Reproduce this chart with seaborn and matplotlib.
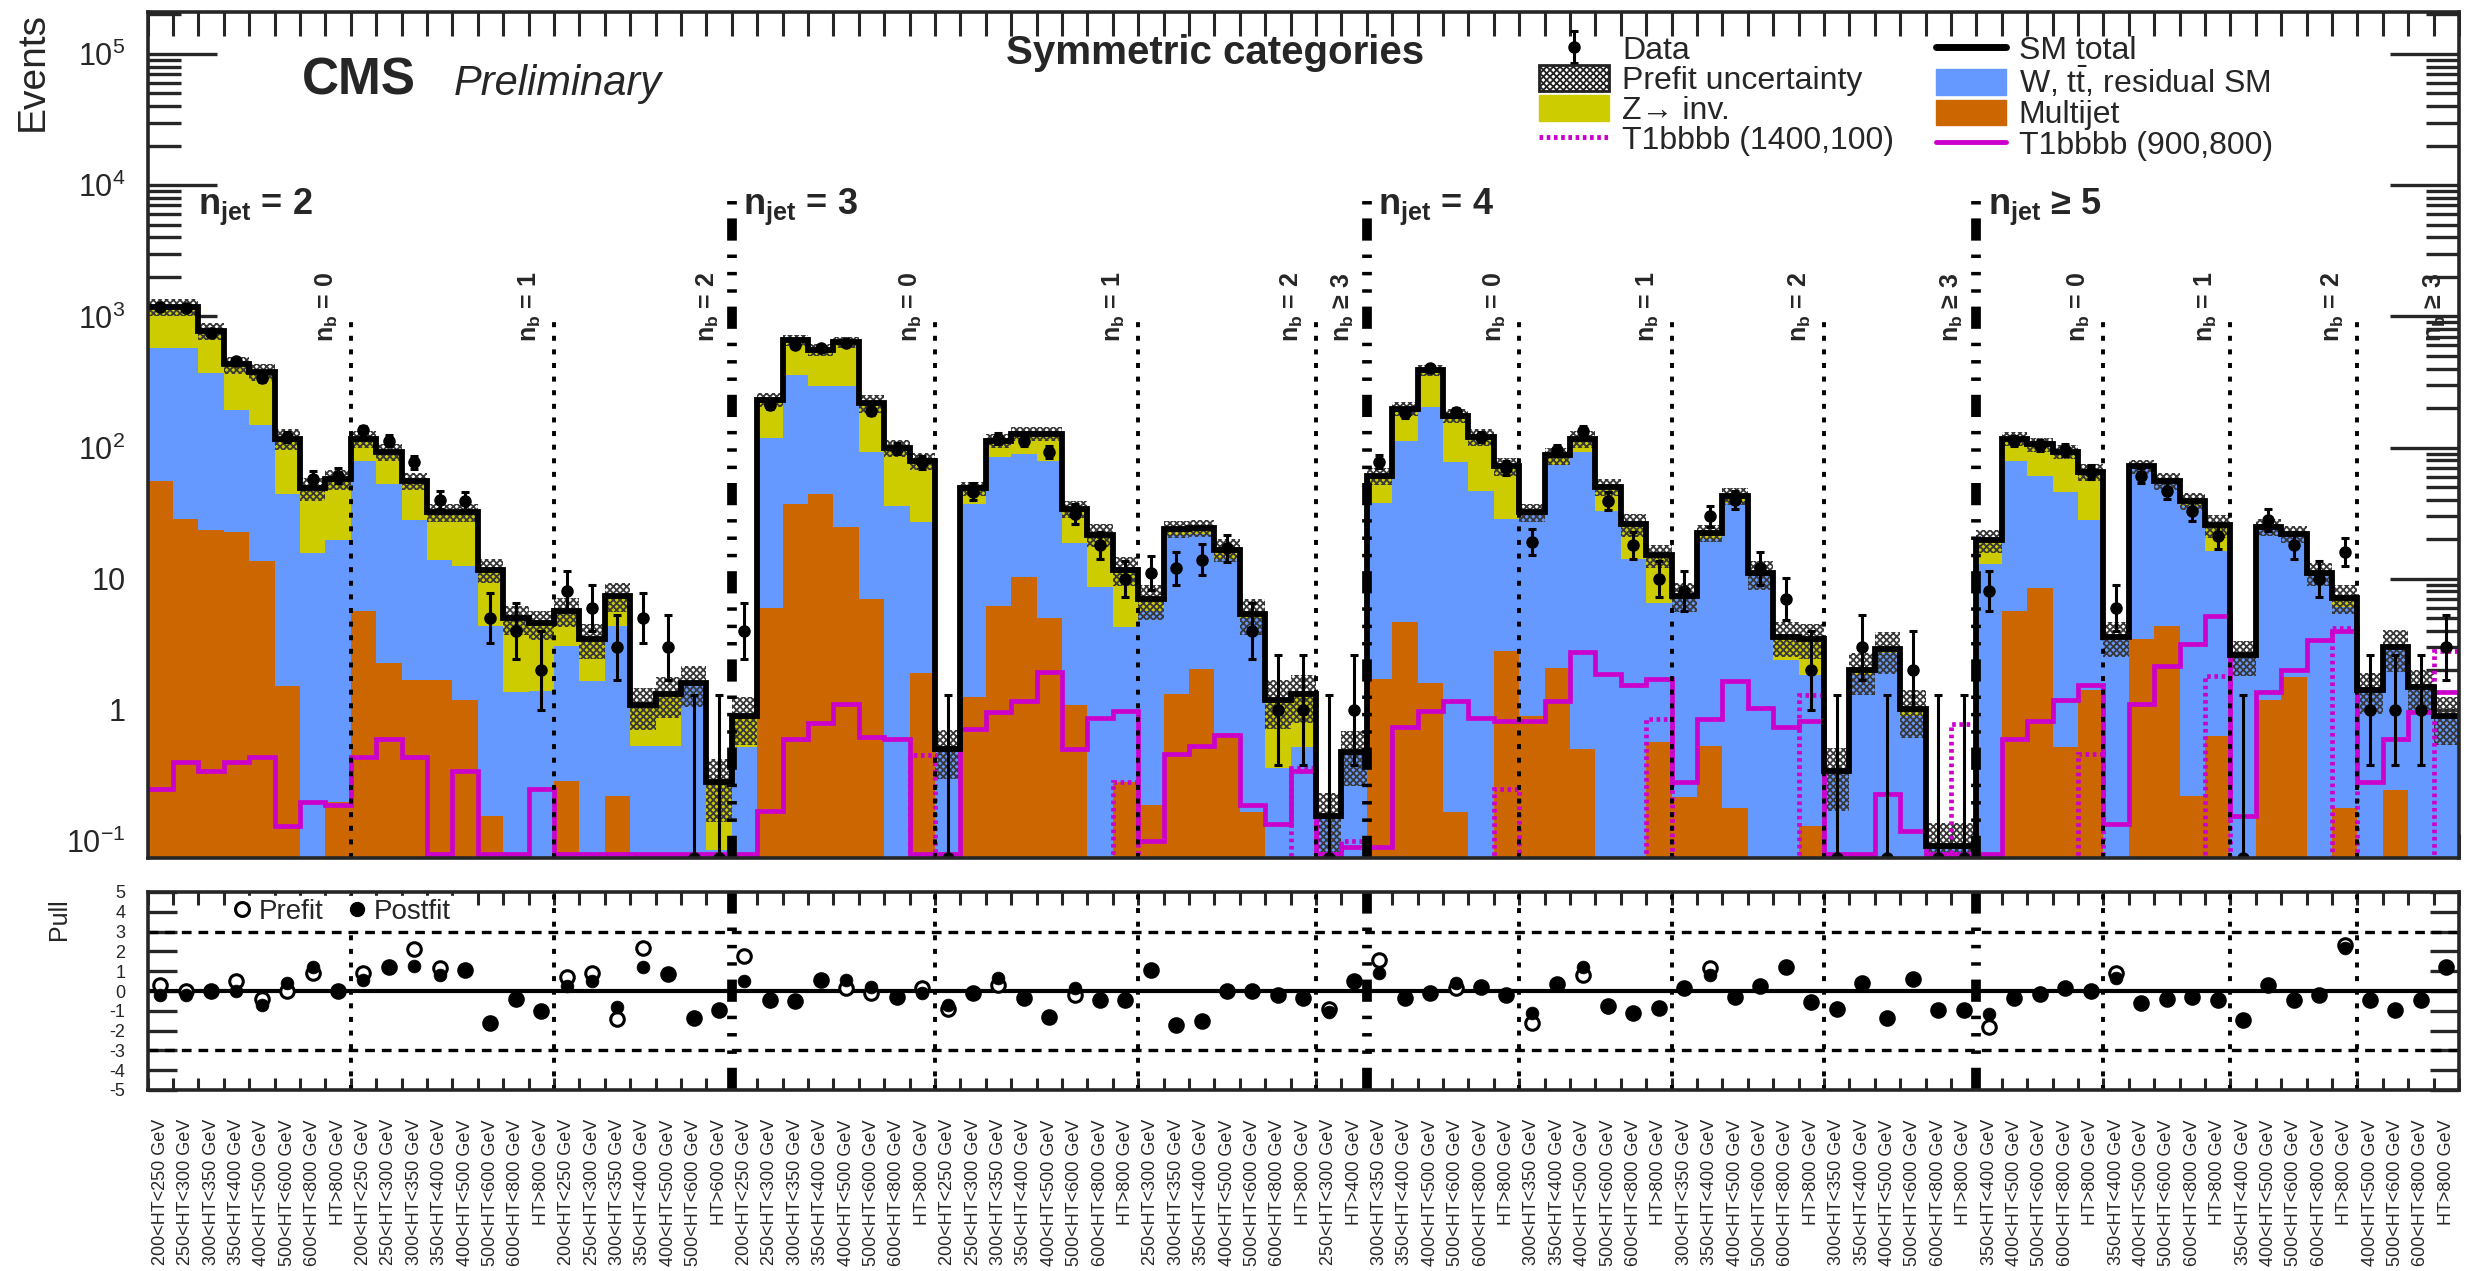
import numpy as np
import pandas as pd
import matplotlib
matplotlib.use("Agg")
import matplotlib.pyplot as plt
import matplotlib.ticker as mticker
import matplotlib.transforms as mtransforms
from matplotlib.lines import Line2D
from matplotlib.patches import Patch
import seaborn as sns

# ---------------- categories / tick labels ----------------
ht_8 = ['200<HT<250', '250<HT<300', '300<HT<350', '350<HT<400', '400<HT<500', '500<HT<600', '600<HT<800', 'HT>800']
ht_nj2_nb2 = ['200<HT<250', '250<HT<300', '300<HT<350', '350<HT<400', '400<HT<500', '500<HT<600', 'HT>600']
ht_nj3_nb2 = ['250<HT<300', '300<HT<350', '350<HT<400', '400<HT<500', '500<HT<600', '600<HT<800', 'HT>800']
ht_nj3_nb3 = ['250<HT<300', 'HT>400']
ht_nj4 = ['300<HT<350', '350<HT<400', '400<HT<500', '500<HT<600', '600<HT<800', 'HT>800']
ht_nj5 = ['350<HT<400', '400<HT<500', '500<HT<600', '600<HT<800', 'HT>800']
ht_nj5_nb3 = ['400<HT<500', '500<HT<600', '600<HT<800', 'HT>800']

categories = [
    ('= 2', [('= 0', ht_8), ('= 1', ht_8), ('= 2', ht_nj2_nb2)]),
    ('= 3', [('= 0', ht_8), ('= 1', ht_8), ('= 2', ht_nj3_nb2), ('\u2265 3', ht_nj3_nb3)]),
    ('= 4', [('= 0', ht_nj4), ('= 1', ht_nj4), ('= 2', ht_nj4), ('\u2265 3', ht_nj4)]),
    ('\u2265 5', [('= 0', ht_nj5), ('= 1', ht_nj5), ('= 2', ht_nj5), ('\u2265 3', ht_nj5_nb3)]),
]

# ---------------- series (events per bin) ----------------
multijet = [55.6, 28.5, 23.4, 22.7, 13.6, 1.53, 0, 0.2, 5.7, 2.26, 1.69, 1.7, 1.2, 0.156, 0, 0, 0.285, 0.08, 0.22, 0, 0, 0, 0,
            0, 6.0, 36.9, 44, 25, 6.95, 0, 1.9, 0, 1.25, 6.2, 10.3, 5.0, 1.09, 0, 0.28, 0.19, 1.33, 2.05, 0.67, 0.166, 0, 0, 0, 0,
            1.72, 4.7, 1.6, 0.166, 0, 2.8, 0.9, 2.1, 0.5, 0, 0, 0.57, 0.215, 0.53, 0.18, 0, 0, 0.13, 0, 0, 0, 0, 0, 0,
            0, 5.7, 8.5, 0.52, 1.42, 0, 3.5, 4.4, 0.22, 0.63, 0, 1.2, 1.78, 0, 0.18, 0, 0.245, 0, 0]
wtt_resid = [519, 546, 347, 170, 136, 42.5, 15.7, 19.4, 73, 50.7, 26.3, 12.3, 11.3, 4.24, 1.37, 1.4, 2.8, 1.58, 4.18, 0.53, 0.53, 1.55, 0.085,
             0.52, 113, 321, 251, 270, 86, 36, 25.1, 0.5, 35.6, 78.8, 79.7, 74, 17.7, 8.6, 4.02, 5.51, 20.4, 19.95, 13.5, 4.83, 0.36, 0.52, 0.155, 0.46,
             35.9, 108.3, 202.4, 76.8, 47, 25.6, 31.1, 71.9, 91.5, 33, 14.2, 5.93, 6.79, 19.47, 37.42, 10.6, 2.4, 1.71, 0.34, 1.84, 2.7, 0.9, 0.092, 0.092,
             13, 73.3, 52.5, 45.2, 26.6, 3.6, 68.5, 51.6, 35.8, 15.6, 2.6, 23.8, 19.7, 11, 5.9, 1.42, 2.75, 1.5, 0.9]
zinv = [600, 600, 401, 237, 227, 73, 33.1, 37.8, 38, 40, 27.6, 18, 19.5, 7.3, 3.63, 3.16, 2.6, 1.84, 3.0, 0.56, 0.8, 0.06, 0.195,
        0.38, 113, 298, 262, 340, 124, 64, 52, 0, 11.9, 28, 37, 48, 15.2, 13.1, 7.4, 1.25, 2.2, 2.3, 2.5, 0.35, 0.84, 0.81, 0, 0.02,
        23.4, 84, 186, 98, 74, 43.6, 0, 13, 25, 17, 11.8, 8.6, 0.4, 2.4, 5.3, 0.4, 1.2, 1.66, 0, 0.16, 0.2, 0.12, 0, 0,
        6.6, 38, 45, 47.3, 37, 0, 0, 0, 3, 9.3, 0, 0, 0.4, 0, 1.1, 0, 0, 0, 0]
unc_rel = [0.15, 0.15, 0.15, 0.15, 0.15, 0.18, 0.2, 0.18, 0.15, 0.15, 0.15, 0.15, 0.15, 0.2, 0.25, 0.25, 0.25, 0.3, 0.25, 0.35, 0.35, 0.35, 0.5,
           0.4, 0.12, 0.1, 0.1, 0.1, 0.15, 0.15, 0.15, 0.4, 0.12, 0.12, 0.12, 0.12, 0.15, 0.2, 0.25, 0.3, 0.15, 0.15, 0.2, 0.3, 0.4, 0.4, 0.5, 0.45,
           0.15, 0.12, 0.1, 0.12, 0.15, 0.15, 0.15, 0.15, 0.15, 0.15, 0.2, 0.2, 0.25, 0.15, 0.15, 0.25, 0.3, 0.3, 0.5, 0.35, 0.35, 0.4, 0.5, 0.5,
           0.2, 0.12, 0.12, 0.12, 0.15, 0.3, 0.12, 0.15, 0.15, 0.2, 0.3, 0.15, 0.15, 0.2, 0.25, 0.35, 0.35, 0.35, 0.4]
data = [1180, 1150, 747, 453, 336, 121, 58, 61, 135, 113, 77, 40, 39, 5, 4, 2, 8, 6, 3, 5, 3, 0, 0,
        4, 210, 602, 575, 627, 190, 98, 77, 0, 46, 117, 113, 93, 31, 18, 10, 11, 12, 14, 17, 4, 1, 1, 0, 1,
        78, 182, 403, 185, 121, 70, 19, 95, 134, 39, 18, 10, 8, 30, 40, 12, 7, 2, 0, 3, 0, 2, 0, 0,
        8, 112, 104, 96, 65, 6, 61, 47, 33, 21, 0, 28, 18, 10, 16, 1, 1, 1, 3]
sig_900_800 = [0.25, 0.4, 0.34, 0.4, 0.44, 0.13, 0.2, 0.19, 0.44, 0.6, 0.44, 0.08, 0.34, 0.08, 0.08, 0.25, 0.08, 0.08, 0.08, 0.08, 0.08, 0.08, 0.08,
               0.08, 0.17, 0.6, 0.8, 1.1, 0.62, 0.6, 0.08, 0.08, 0.72, 0.96, 1.16, 1.95, 0.5, 0.87, 0.98, 0.1, 0.46, 0.53, 0.64, 0.19, 0.135, 0.34, 0.08, 0.09,
               0.09, 0.74, 0.98, 1.16, 0.87, 0.82, 0.82, 1.16, 2.77, 1.88, 1.56, 1.72, 0.28, 0.85, 1.67, 1.04, 0.74, 0.82, 0.08, 0.08, 0.23, 0.12, 0.08, 0.08,
               0.08, 0.6, 0.82, 1.2, 1.56, 0.135, 1.1, 2.15, 3.2, 5.2, 0.155, 1.37, 2.0, 3.4, 4.0, 0.28, 0.6, 0.96, 1.37]
sig_1400_100 = [0.01, 0.01, 0.01, 0.01, 0.01, 0.01, 0.01, 0.01, 0.01, 0.01, 0.01, 0.01, 0.01, 0.01, 0.01, 0.01, 0.01, 0.01, 0.01, 0.01, 0.01, 0.01, 0.01,
                0.01, 0.01, 0.01, 0.01, 0.01, 0.01, 0.01, 0.45, 0.01, 0.01, 0.01, 0.01, 0.01, 0.01, 0.01, 0.28, 0.01, 0.01, 0.01, 0.01, 0.01, 0.01, 0.36, 0.01, 0.1,
                0.01, 0.01, 0.01, 0.01, 0.01, 0.25, 0.01, 0.01, 0.01, 0.01, 0.01, 0.85, 0.01, 0.01, 0.01, 0.01, 0.01, 1.3, 0.01, 0.01, 0.01, 0.01, 0.01, 0.78,
                0.01, 0.01, 0.01, 0.01, 0.46, 0.01, 0.01, 0.01, 0.01, 1.8, 0.01, 0.01, 0.01, 0.01, 4.2, 0.01, 0.01, 0.01, 2.8]
pull_prefit = [0.3, 0, 0, 0.5, -0.4, 0, 0.9, 0, 0.9, 1.2, 2.1, 1.15, 1.05, -1.6, -0.4, -1.0, 0.7, 0.9, -1.4, 2.15, 0.85, -1.35, -0.95,
               1.75, -0.45, -0.5, 0.55, 0.15, -0.1, -0.3, 0.15, -0.9, -0.1, 0.3, -0.35, -1.3, -0.2, -0.45, -0.45, 1.05, -1.7, -1.5, 0, 0, -0.2, -0.35, -0.9, 0.5,
               1.57, -0.37, -0.1, 0.15, 0.2, -0.2, -1.6, 0.35, 0.8, -0.75, -1.1, -0.88, 0.13, 1.15, -0.3, 0.25, 1.23, -0.55, -0.9, 0.42, -1.38, 0.59, -0.96, -0.96,
               -1.8, -0.37, -0.17, 0.17, 0, 0.9, -0.62, -0.4, -0.29, -0.46, -1.47, 0.3, -0.46, -0.2, 2.3, -0.46, -0.96, -0.46, 1.2]
pull_postfit = [-0.2, -0.2, 0, 0, -0.7, 0.4, 1.2, 0, 0.55, 1.2, 1.25, 0.8, 1.05, -1.6, -0.4, -1.0, 0.25, 0.5, -0.8, 1.2, 0.85, -1.3, -0.95,
                0.5, -0.5, -0.5, 0.6, 0.55, 0.2, -0.3, -0.1, -0.7, -0.1, 0.65, -0.35, -1.3, 0.15, -0.45, -0.45, 1.05, -1.7, -1.5, 0, 0, -0.2, -0.35, -1.05, 0.5,
                0.9, -0.37, -0.1, 0.42, 0.2, -0.2, -1.13, 0.35, 1.2, -0.8, -1.1, -0.88, 0.13, 0.8, -0.3, 0.25, 1.23, -0.62, -0.88, 0.42, -1.38, 0.59, -0.96, -0.96,
                -1.16, -0.29, -0.12, 0.17, 0, 0.64, -0.62, -0.37, -0.29, -0.46, -1.47, 0.3, -0.46, -0.2, 2.16, -0.46, -0.96, -0.46, 1.2]
y_major_ticks = [0.1, 1, 10, 100, 1e3, 1e4, 1e5]
pull_ticks = [-5, -4, -3, -2, -1, 0, 1, 2, 3, 4, 5]

# ---------------- style ----------------
sns.set_theme(style="ticks")
plt.rcParams['font.family'] = ['Liberation Sans', 'DejaVu Sans']
plt.rcParams['mathtext.fontset'] = 'custom'
plt.rcParams['mathtext.rm'] = 'Liberation Sans'
plt.rcParams['mathtext.it'] = 'Liberation Sans:italic'
plt.rcParams['mathtext.bf'] = 'Liberation Sans:bold'
plt.rcParams['hatch.linewidth'] = 1.3
plt.rcParams['hatch.color'] = '#383838'
plt.rcParams['lines.scale_dashes'] = False
plt.rcParams['axes.linewidth'] = 2.6

C_MJ = '#CC6600'
C_W = '#6699FF'
C_Z = '#CCCC00'
C_SIG = '#CC00CC'

# ---------------- derived structure ----------------
tick_labels = []
nb_groups = []
nj_groups = []
pos = 0
for nj_text, nbs in categories:
    nj_start = pos
    for nb_text, hts in nbs:
        tick_labels += [h + ' GeV' for h in hts]
        nb_groups.append((pos, pos + len(hts), nb_text))
        pos += len(hts)
    nj_groups.append((nj_start, pos, nj_text))
n = len(tick_labels)
edges = np.arange(n + 1, dtype=float)
centers = edges[:-1] + 0.5

mj = np.array(multijet, float)
wt = np.array(wtt_resid, float)
zz = np.array(zinv, float)
tot = mj + wt + zz
unc = np.array(unc_rel, float)
dat = np.array(data, float)

YMIN, YMAX = 0.075, 2.1e5
FLOOR = 1e-3

W_PX, H_PX = 2490, 1271
fig = plt.figure(figsize=(24.9, 12.71), dpi=100)
L, R = 147.5 / W_PX, 2459 / W_PX
ax = fig.add_axes([L, 1 - 857.5 / H_PX, R - L, (857.5 - 11.7) / H_PX])
axp = fig.add_axes([L, 1 - 1090 / H_PX, R - L, (1090 - 892) / H_PX])

# ---------------- main panel ----------------
b1 = np.maximum(mj, FLOOR)
b2 = np.maximum(mj + wt, FLOOR)
b3 = np.maximum(tot, FLOOR)
ax.stairs(b1, edges, baseline=FLOOR, fill=True, color=C_MJ, lw=0, zorder=1)
ax.stairs(b2, edges, baseline=b1, fill=True, color=C_W, lw=0, zorder=1)
ax.stairs(b3, edges, baseline=b2, fill=True, color=C_Z, lw=0, zorder=1)
ax.stairs(tot * (1 + unc), edges, baseline=tot * (1 - unc), fill=True, facecolor='none',
          edgecolor='#383838', hatch='xxxxx', lw=0, zorder=2)
ax.stairs(np.array(sig_1400_100), edges, baseline=None, color=C_SIG, lw=3.4,
          linestyle=(0, (2.6, 2.6)), zorder=3)
ax.stairs(np.array(sig_900_800), edges, baseline=None, color=C_SIG, lw=3.4, zorder=3)
ax.stairs(tot, edges, baseline=None, color='black', lw=4.2, zorder=4)

yplot = np.where(dat > 0, dat, YMIN)
err_lo = np.where(dat > 0, -0.5 + np.sqrt(dat + 0.25), 0)
err_hi = np.where(dat > 0, 0.5 + np.sqrt(dat + 0.25), 1.29 - YMIN)
err_lo = np.minimum(err_lo, yplot - YMIN * 0.999)
data_h = ax.errorbar(centers, yplot, yerr=[err_lo, err_hi], fmt='o', color='black', ms=8,
                     elinewidth=2.2, capsize=3, capthick=2.2, zorder=6, label='Data')

ax.set_yscale('log')
ax.set_ylim(YMIN, YMAX)
ax.set_xlim(0, n)

# separators
thick_ls = (0, (16, 10, 2.5, 10, 2.5, 10, 2.5, 10))
dot_ls = (0, (3.6, 6.2))
nj_ends = [g[1] for g in nj_groups]
for e in nj_ends[:-1]:
    ax.vlines(e, YMIN, 9e3, colors='black', lw=7, linestyles=[thick_ls], zorder=5)
    axp.axvline(e, color='black', lw=7, ls=thick_ls, zorder=1)
for (s, e, t) in nb_groups:
    if e not in nj_ends:
        ax.vlines(e, YMIN, 1e3, colors='black', lw=2.8, linestyles=[dot_ls], zorder=5)
        axp.axvline(e, color='black', lw=2.8, ls=dot_ls, zorder=1)

# category labels
for i, (s, e, t) in enumerate(nj_groups):
    x0 = s + 2.0 if i == 0 else s + 0.45
    ax.text(x0, 6.0e3, r'$\mathbf{n_{jet}}$ ' + t, fontsize=26, fontweight='bold',
            ha='left', va='baseline', zorder=7)
for (s, e, t) in nb_groups:
    ax.text(e - 0.95, 640, r'$\mathbf{n_{b}}$ ' + t, fontsize=18, fontweight='bold',
            rotation=90, ha='center', va='bottom', zorder=7)

blend = mtransforms.blended_transform_factory(ax.transAxes, ax.transData)
ax.text(0.0668, 4.9e4, 'CMS', transform=blend, fontsize=37, fontweight='bold',
        ha='left', va='baseline')
ax.text(0.1326, 4.9e4, 'Preliminary', transform=blend, fontsize=30, fontstyle='italic',
        ha='left', va='baseline')
fig.text(1215 / W_PX, 1 - 64 / H_PX, 'Symmetric categories', fontsize=29, fontweight='bold',
         ha='center', va='baseline')

# y axis (only ticks inside the visible range)
def log_label(v):
    e = int(round(np.log10(v)))
    if e == 0:
        return '1'
    if e == 1:
        return '10'
    return r'$10^{%d}$' % e
minor_ticks = [m * d for d in [0.01, 0.1, 1, 10, 100, 1e3, 1e4, 1e5] for m in range(2, 10)
               if YMIN <= m * d <= YMAX]
ax.set_yticks(y_major_ticks)
ax.set_yticklabels([log_label(v) for v in y_major_ticks])
ax.set_yticks(minor_ticks, minor=True)
ax.yaxis.set_minor_formatter(mticker.NullFormatter())
ax.tick_params(axis='y', which='major', direction='in', length=50, width=2.4, left=True, right=True,
               labelsize=22, pad=16)
ax.tick_params(axis='y', which='minor', direction='in', length=24, width=2.4, left=True, right=True)
ax.set_xticks(edges)
ax.set_xticks([], minor=True)
ax.tick_params(axis='x', which='major', direction='in', length=17, width=2.2, top=True, bottom=True,
               labelbottom=False)
ax.set_ylabel('Events', fontsize=28, loc='top')
ax.yaxis.set_label_coords(-0.0417, 1.0)

# legend
handles = [data_h,
           Patch(facecolor='white', edgecolor='#222222', hatch='xxxxx', lw=2),
           Patch(facecolor=C_Z, edgecolor=C_Z),
           Line2D([0], [0], color=C_SIG, lw=3.5, ls=(0, (2.6, 2.6))),
           Line2D([0], [0], color='black', lw=5),
           Patch(facecolor=C_W, edgecolor=C_W),
           Patch(facecolor=C_MJ, edgecolor=C_MJ),
           Line2D([0], [0], color=C_SIG, lw=3.5)]
labels = ['Data', 'Prefit uncertainty', 'Z\u2192 inv.', 'T1bbbb (1400,100)',
          'SM total', r'W, t$\bar{\mathrm{t}}$, residual SM', 'Multijet', 'T1bbbb (900,800)']
fig.legend(handles, labels, loc='upper left', bbox_to_anchor=(1539 / W_PX, 1 - 35 / H_PX), ncol=2,
           frameon=False, fontsize=23, handlelength=2.2, handleheight=0.85, labelspacing=-0.02,
           columnspacing=1.3, handletextpad=0.4, borderaxespad=0, borderpad=0)

# ---------------- pull panel ----------------
pulls = pd.DataFrame({'x': centers, 'prefit': pull_prefit, 'postfit': pull_postfit})
axp.axhline(0, color='black', lw=3, zorder=2)
for yv in (-3, 3):
    axp.axhline(yv, color='black', lw=2.4, ls=(0, (7, 5)), zorder=2)
sns.scatterplot(data=pulls, x='x', y='prefit', ax=axp, marker='o', s=95, facecolor='white',
                edgecolor='black', linewidth=2.2, zorder=4, legend=False)
sns.scatterplot(data=pulls, x='x', y='postfit', ax=axp, marker='o', s=85, color='black',
                edgecolor='black', linewidth=0.5, zorder=5, legend=False)
axp.set_xlim(0, n)
axp.set_ylim(-5, 5)
axp.set_yticks(pull_ticks)
axp.set_yticklabels([str(v) for v in pull_ticks])
axp.tick_params(axis='y', which='major', direction='in', length=21, width=2.4, left=True, right=True,
                labelsize=13, pad=16)
axp.set_xticks(edges)
axp.set_xticks(centers, minor=True)
axp.set_xticklabels([], minor=False)
axp.set_xticklabels(tick_labels, minor=True, rotation=90, fontsize=13, va='top')
axp.tick_params(axis='x', which='major', direction='in', length=9, width=2.2, top=True, bottom=True)
axp.tick_params(axis='x', which='minor', length=0, pad=21)
axp.set_xlabel('')
axp.set_ylabel('Pull', fontsize=18, loc='top')
axp.yaxis.set_label_coords(-0.0330, 0.97)
ph = [Line2D([0], [0], marker='o', ls='none', mfc='white', mec='black', mew=2.2, ms=10),
      Line2D([0], [0], marker='o', ls='none', mfc='black', mec='black', ms=10)]
lg = axp.legend(ph, ['Prefit', 'Postfit'], loc='upper left', bbox_to_anchor=(0.033, 1.0), ncol=2,
                fontsize=20, frameon=True, fancybox=False, facecolor='white', edgecolor='white',
                framealpha=1, handlelength=0.8, handletextpad=0.2, columnspacing=0.8,
                borderpad=0.1, borderaxespad=0.15)
lg.set_zorder(10)

for a in (ax, axp):
    for sp in a.spines.values():
        sp.set_linewidth(2.6)
        sp.set_zorder(8)

fig.savefig('out.png', dpi=100)
